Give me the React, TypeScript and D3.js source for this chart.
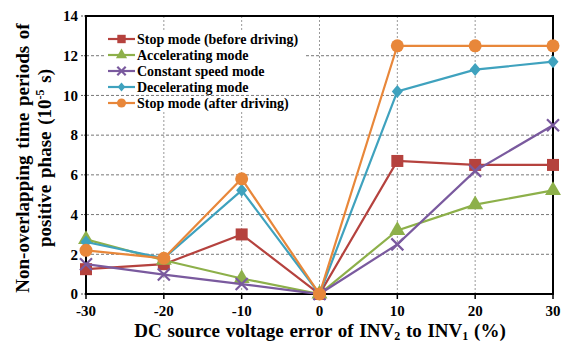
import React from "react";
import * as d3 from "d3";

const xValues = [-30, -20, -10, 0, 10, 20, 30];
const yTicks = [0, 2, 4, 6, 8, 10, 12, 14];
const seriesNames = [
  "Stop mode (before driving)",
  "Accelerating mode",
  "Constant speed mode",
  "Decelerating mode",
  "Stop mode (after driving)",
];
const stopBefore = [1.25, 1.5, 3.0, 0, 6.7, 6.5, 6.5];
const accelerating = [2.75, 1.7, 0.78, 0, 3.2, 4.5, 5.22];
const constantSpeed = [1.5, 0.98, 0.5, 0, 2.5, 6.2, 8.5];
const decelerating = [2.62, 1.8, 5.22, 0, 10.2, 11.3, 11.7];
const stopAfter = [2.2, 1.8, 5.8, 0, 12.5, 12.5, 12.5];

const seriesValues = [stopBefore, accelerating, constantSpeed, decelerating, stopAfter];
const colors = ["#B5423E", "#8DB04A", "#7A5A9E", "#3FA2BE", "#E8873A"];
const shapes = ["square", "triangle", "x", "diamond", "circle"];

const M = { left: 86, right: 553, top: 16, bottom: 294 };

function Marker({ shape, x, y, color, small }: any) {
  const s = small ? 0.7 : 1;
  if (shape === "square") {
    const h = 6 * s;
    return <rect x={x - h} y={y - h} width={2 * h} height={2 * h} fill={color} />;
  }
  if (shape === "triangle") {
    const sym = d3.symbol(d3.symbolTriangle, 110 * s * s)();
    return <path d={sym || ""} transform={`translate(${x},${y})`} fill={color} />;
  }
  if (shape === "diamond") {
    const h = 6.5 * s;
    return <path d={`M${x},${y - h}L${x + h * 0.85},${y}L${x},${y + h}L${x - h * 0.85},${y}Z`} fill={color} />;
  }
  if (shape === "circle") {
    return <circle cx={x} cy={y} r={6.5 * s} fill={color} />;
  }
  const h = 6 * s;
  return (
    <path
      d={`M${x - h},${y - h}L${x + h},${y + h}M${x - h},${y + h}L${x + h},${y - h}`}
      stroke={color}
      strokeWidth={2.2}
      fill="none"
    />
  );
}

export default function App() {
  const x = d3.scaleLinear().domain([-30, 30]).range([M.left, M.right]);
  const y = d3.scaleLinear().domain([0, 14]).range([M.bottom, M.top]);
  const line = d3
    .line<number>()
    .x((_, i) => x(xValues[i]))
    .y((d) => y(d));
  const font = "'Liberation Serif', 'Times New Roman', serif";

  return (
    <svg width={571} height={345} style={{ position: "absolute", left: 0, top: 0 }} fontFamily={font}>
      <rect width={571} height={345} fill="#fff" />
      {/* grid */}
      {yTicks.slice(1, -1).map((t) => (
        <line key={"hy" + t} x1={M.left} x2={M.right} y1={y(t)} y2={y(t)} stroke="#777" strokeWidth={1} strokeDasharray="3,2" />
      ))}
      {xValues.slice(1, -1).map((t) => (
        <line key={"vx" + t} x1={x(t)} x2={x(t)} y1={M.top} y2={M.bottom} stroke="#999" strokeWidth={1} strokeDasharray="2,2" />
      ))}
      {/* ticks */}
      {yTicks.map((t) => (
        <line key={"ty" + t} x1={M.left - 5} x2={M.left} y1={y(t)} y2={y(t)} stroke="#555" strokeWidth={1} strokeDasharray="2,1" />
      ))}
      {xValues.map((t) => (
        <line key={"tx" + t} x1={x(t)} x2={x(t)} y1={M.bottom} y2={M.bottom + 5} stroke="#000" strokeWidth={1.5} />
      ))}
      {/* frame */}
      <rect x={M.left} y={M.top} width={M.right - M.left} height={M.bottom - M.top} fill="none" stroke="#000" strokeWidth={2} />
      {/* tick labels */}
      {yTicks.map((t) => (
        <text key={"ly" + t} x={M.left - 8} y={y(t)} dy="0.35em" textAnchor="end" fontSize={15} fontWeight="bold">
          {t}
        </text>
      ))}
      {xValues.map((t) => (
        <text key={"lx" + t} x={x(t)} y={316} textAnchor="middle" fontSize={15} fontWeight="bold">
          {t}
        </text>
      ))}
      {/* series */}
      {seriesValues.map((vals, si) => (
        <g key={"s" + si}>
          <path d={line(vals) || ""} fill="none" stroke={colors[si]} strokeWidth={2.2} />
          {vals.map((v, i) => (
            <Marker key={i} shape={shapes[si]} x={x(xValues[i])} y={y(v)} color={colors[si]} />
          ))}
        </g>
      ))}
      {/* legend */}
      {seriesNames.map((n, i) => {
        const ly = 39 + i * 16;
        return (
          <g key={"lg" + i}>
            <rect x={105} y={ly - 7} width={200} height={14} fill="#fff" />
            <line x1={108} x2={135} y1={ly} y2={ly} stroke={colors[i]} strokeWidth={2.2} />
            <Marker shape={shapes[i]} x={121.5} y={ly} color={colors[i]} small />
            <text x={137} y={ly} dy="0.35em" fontSize={14} fontWeight="bold">
              {n}
            </text>
          </g>
        );
      })}
      {/* axis titles */}
      <text x={320} y={337} textAnchor="middle" fontSize={19} fontWeight="bold" wordSpacing={1}>
        DC source voltage error of INV
        <tspan fontSize={12} dy={3}>2</tspan>
        <tspan dy={-3}> to INV</tspan>
        <tspan fontSize={12} dy={3}>1</tspan>
        <tspan dy={-3}> (%)</tspan>
      </text>
      <g transform="translate(22,158) rotate(-90)">
        <text x={0} y={0} dy="0.35em" textAnchor="middle" fontSize={19} fontWeight="bold" wordSpacing={2}>
          Non-overlapping time periods of
        </text>
        <text x={0} y={22} dy="0.35em" textAnchor="middle" fontSize={19} fontWeight="bold" wordSpacing={2}>
          positive phase (10
          <tspan fontSize={12} dy={-7}>-5</tspan>
          <tspan dy={7}> s)</tspan>
        </text>
      </g>
    </svg>
  );
}
